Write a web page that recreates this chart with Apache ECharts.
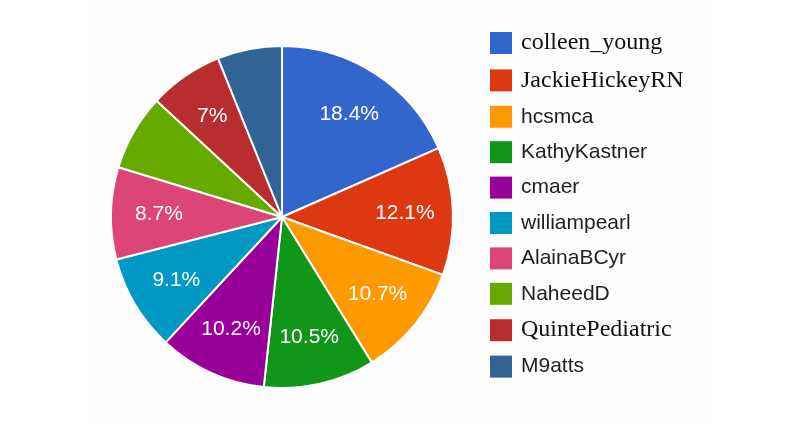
<!DOCTYPE html>
<html>
<head>
<meta charset="utf-8">
<script src="https://cdn.jsdelivr.net/npm/echarts@6/dist/echarts.min.js"></script>
<style>
html,body{margin:0;padding:0;background:#fff;}
#chart{width:800px;height:427px;}
</style>
</head>
<body>
<div id="chart"></div>
<script>
const categories = ['colleen_young','JackieHickeyRN','hcsmca','KathyKastner','cmaer','williampearl','AlainaBCyr','NaheedD','QuintePediatric','M9atts'];
const values = [18.4, 12.1, 10.7, 10.5, 10.2, 9.1, 8.7, 7.2, 7.0, 6.1];
const colors = ['#3366cc','#dc3912','#ff9900','#109618','#990099','#0099c6','#dd4477','#66aa00','#b82e2e','#316395'];
const serifLegendNames = ['colleen_young','JackieHickeyRN','QuintePediatric'];
const unlabeled = ['NaheedD','M9atts'];

const chart = echarts.init(document.getElementById('chart'), null, {renderer:'canvas'});

const baseData = categories.map((c,i)=>({name:c, value:values[i], itemStyle:{color:colors[i]}}));
const labelData = categories.map((c,i)=>({
  name:c, value:values[i],
  label:{show: unlabeled.indexOf(c) < 0}
}));

const option = {
  animation:false,
  backgroundColor:'#ffffff',
  color: colors,
  graphic:[{
    type:'rect', z:-10, silent:true,
    shape:{x:88, y:0, width:625, height:425},
    style:{fill:'#fdfdfd'}
  }],
  legend:{
    orient:'vertical',
    left:490, top:31,
    padding:0,
    itemWidth:22, itemHeight:22, itemGap:13.4,
    icon:'rect',
    itemStyle:{borderWidth:0},
    data: categories,
    formatter: name => serifLegendNames.indexOf(name) >= 0 ? '{s|' + name + '}' : '{a|' + name + '}',
    textStyle:{
      color:'#222222',
      lineHeight:22,
      rich:{
        s:{fontFamily:'Liberation Serif', fontSize:24, color:'#111111', padding:[0,0,0,4], lineHeight:22},
        a:{fontFamily:'Liberation Sans', fontSize:21, color:'#222222', padding:[0,0,0,4], lineHeight:22}
      }
    }
  },
  series:[
    {
      type:'pie',
      center:[282,217],
      radius:[0,171],
      startAngle:90,
      clockwise:true,
      data: baseData,
      label:{show:false},
      labelLine:{show:false},
      itemStyle:{borderColor:'#ffffff', borderWidth:2},
      emphasis:{disabled:true}
    },
    {
      type:'pie',
      center:[282,217],
      radius:[70,170],
      startAngle:90,
      clockwise:true,
      silent:true,
      legendHoverLink:false,
      percentPrecision:1,
      data: labelData,
      itemStyle:{color:'rgba(0,0,0,0)', borderWidth:0},
      label:{
        show:true, position:'inside',
        color:'#ffffff', fontFamily:'Liberation Sans', fontSize:21,
        formatter: p => (Math.round(p.percent*10)/10) + '%'
      },
      labelLine:{show:false},
      emphasis:{disabled:true}
    }
  ]
};
chart.setOption(option);
</script>
</body>
</html>
